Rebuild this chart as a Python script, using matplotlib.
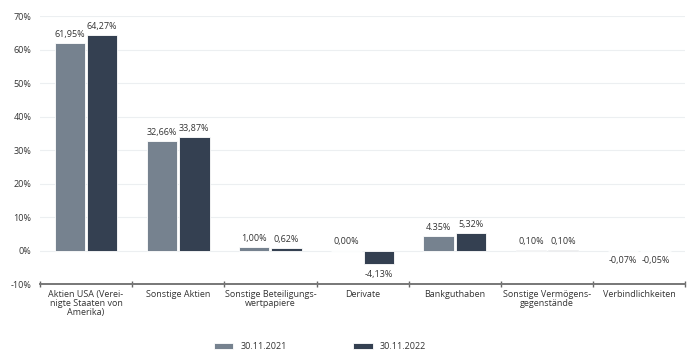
import numpy as np
import matplotlib.pyplot as plt

# Data
categories = ['Aktien USA (Verei-\nnigte Staaten von\nAmerika)', 'Sonstige Aktien',
              'Sonstige Beteiligungs-\nwertpapiere', 'Derivate', 'Bankguthaben',
              'Sonstige Vermögens-\ngegenstände', 'Verbindlichkeiten']
values_2021 = [61.95, 32.66, 1.00, 0.00, 4.35, 0.10, -0.07]
values_2022 = [64.27, 33.87, 0.62, -4.13, 5.32, 0.10, -0.05]
labels_2021 = ['61,95%', '32,66%', '1,00%', '0,00%', '4.35%', '0,10%', '-0,07%']
labels_2022 = ['64,27%', '33,87%', '0,62%', '-4,13%', '5,32%', '0,10%', '-0,05%']
series_names = ['30.11.2021', '30.11.2022']
yticks = [-10, 0, 10, 20, 30, 40, 50, 60, 70]

plt.rcParams['font.family'] = ['Open Sans', 'DejaVu Sans']

c_light = '#76828f'
c_dark = '#344051'
txt = '#333333'

fig = plt.figure(figsize=(7, 3.63), dpi=100)
ax = fig.add_axes([0.057, 0.2176, 0.922, 0.738])

x = np.arange(len(categories))
w = 0.33
off = 0.175
b1 = ax.bar(x - off, values_2021, w, color=c_light, edgecolor='white', linewidth=0.6, label=series_names[0], zorder=3)
b2 = ax.bar(x + off, values_2022, w, color=c_dark, edgecolor='white', linewidth=0.6, label=series_names[1], zorder=3)

for bars, labs in [(b1, labels_2021), (b2, labels_2022)]:
    for rect, lab in zip(bars, labs):
        h = rect.get_height()
        cx = rect.get_x() + rect.get_width() / 2
        if h < 0:
            ax.annotate(lab, (cx, h), xytext=(0, -4), textcoords='offset points',
                        ha='center', va='top', fontsize=6.5, color=txt)
        else:
            ax.annotate(lab, (cx, h), xytext=(0, 3), textcoords='offset points',
                        ha='center', va='bottom', fontsize=6.5, color=txt)

ax.set_xlim(-0.5, len(categories) - 0.5)
ax.set_ylim(-10, 70)
ax.set_yticks(yticks)
ax.set_yticklabels([f'{t}%' for t in yticks], fontsize=6.5, color=txt)
ax.set_xticks(x)
ax.set_xticklabels(categories, fontsize=6.5, color=txt, linespacing=1.0)
ax.set_xticks(np.arange(-0.5, len(categories)), minor=True)
ax.tick_params(axis='x', which='major', length=0, pad=4)
ax.tick_params(axis='x', which='minor', length=4, direction='inout', color='#666666', width=1)
ax.tick_params(axis='y', length=0, pad=6)

ax.grid(axis='y', color='#eceff1', linewidth=0.8, zorder=0)
for s in ['top', 'right', 'left']:
    ax.spines[s].set_visible(False)
ax.spines['bottom'].set_color('#777777')
ax.spines['bottom'].set_linewidth(1.4)

fig.legend(handles=[b1, b2], labels=series_names, loc='lower center', bbox_to_anchor=(0.457, 0.01),
           ncol=2, frameon=False, fontsize=6.5, handlelength=2.2, handleheight=0.5,
           columnspacing=7.3, labelcolor=txt)

plt.savefig('out.png', dpi=100)
